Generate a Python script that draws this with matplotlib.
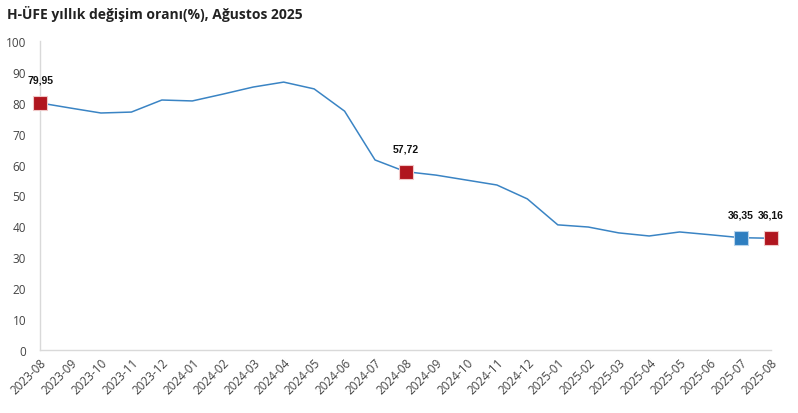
import matplotlib.pyplot as plt

# Veriler
months = ['2023-08', '2023-09', '2023-10', '2023-11', '2023-12', '2024-01', '2024-02',
          '2024-03', '2024-04', '2024-05', '2024-06', '2024-07', '2024-08', '2024-09',
          '2024-10', '2024-11', '2024-12', '2025-01', '2025-02', '2025-03', '2025-04',
          '2025-05', '2025-06', '2025-07', '2025-08']
values = [79.95, 78.3, 76.7, 77.0, 80.9, 80.6, 82.8, 85.1, 86.7, 84.5, 77.3, 61.5, 57.72,
          56.6, 55.0, 53.4, 48.9, 40.5, 39.8, 37.9, 36.9, 38.2, 37.3, 36.35, 36.16]
red_idx = [0, 12, 24]
blue_idx = [23]
y_ticks = [0, 10, 20, 30, 40, 50, 60, 70, 80, 90, 100]

line_col = '#3a84c4'
red = '#b0151e'
blue = '#2e7ec0'

plt.rcParams['font.family'] = ['Open Sans', 'DejaVu Sans']

fig = plt.figure(figsize=(7.98, 4.14), dpi=100)
ax = fig.add_axes([40 / 798, 1 - 351 / 414, 731 / 798, 309 / 414])

x = list(range(len(months)))
ax.plot(x, values, color=line_col, linewidth=1.1, clip_on=False, zorder=2)

for i in red_idx + blue_idx:
    c = red if i in red_idx else blue
    ax.plot(x[i], values[i], 's', color=c, markersize=10,
            markeredgecolor='#f0c8c8' if c == red else '#b8d4ec',
            markeredgewidth=0.8, clip_on=False, zorder=3)
    lbl = f'{values[i]:.2f}'.replace('.', ',')
    ax.annotate(lbl, xy=(x[i], values[i]), textcoords='offset points', xytext=(0, 17),
                ha='center', va='center', fontsize=7.5, fontweight='bold', color='#111111',
                family='Liberation Sans')

ax.set_xlim(0, len(months) - 1)
ax.set_ylim(0, 100)
ax.set_xticks(x)
ax.set_xticklabels(months, rotation=45, ha='right', rotation_mode='anchor',
                   fontsize=8.5, color='#444444')
ax.set_yticks(y_ticks)
ax.tick_params(axis='y', labelsize=8.5, labelcolor='#444444', length=0, pad=10)
ax.tick_params(axis='x', length=0, pad=4)

for s in ['top', 'right']:
    ax.spines[s].set_visible(False)
for s in ['left', 'bottom']:
    ax.spines[s].set_color('#d9d9d9')
    ax.spines[s].set_linewidth(1)

fig.text(7 / 798, 1 - 14 / 414, 'H-ÜFE yıllık değişim oranı(%), Ağustos 2025',
         fontsize=10, fontweight='bold', color='#222222', ha='left', va='center')

plt.savefig('out.png', dpi=100, facecolor='white')
